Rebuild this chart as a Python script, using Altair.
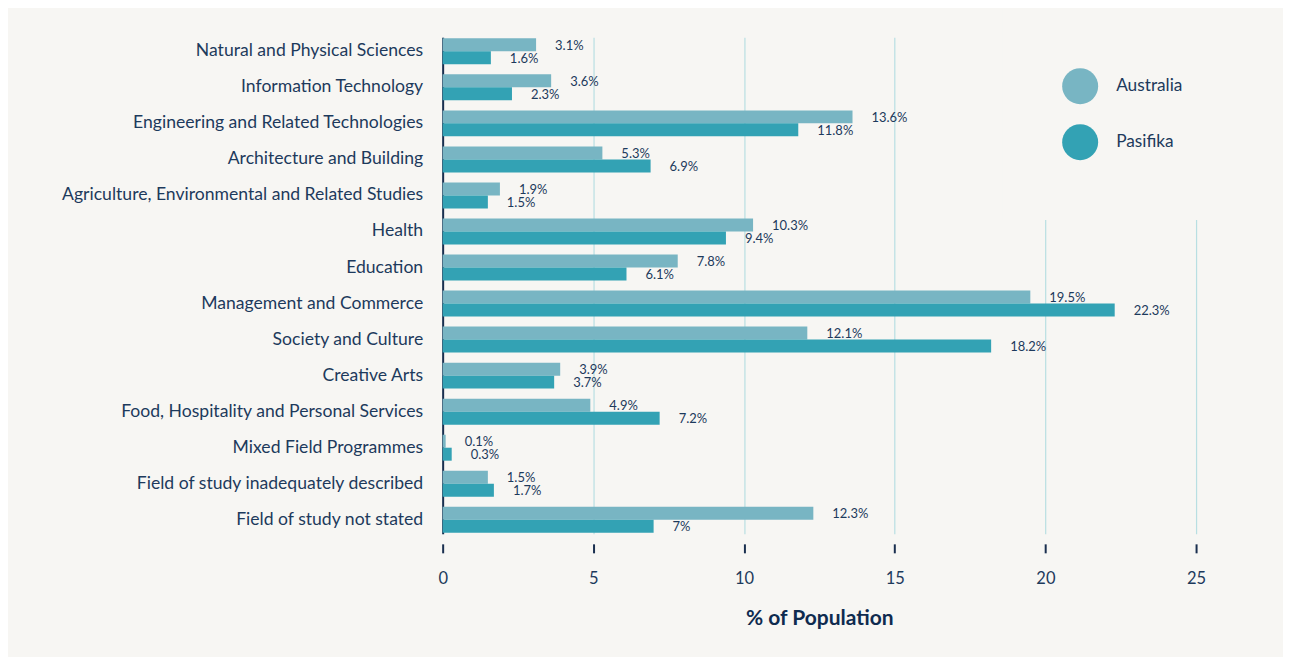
import altair as alt
import pandas as pd

categories = [
    "Natural and Physical Sciences",
    "Information Technology",
    "Engineering and Related Technologies",
    "Architecture and Building",
    "Agriculture, Environmental and Related Studies",
    "Health",
    "Education",
    "Management and Commerce",
    "Society and Culture",
    "Creative Arts",
    "Food, Hospitality and Personal Services",
    "Mixed Field Programmes",
    "Field of study inadequately described",
    "Field of study not stated",
]
australia = [3.1, 3.6, 13.6, 5.3, 1.9, 10.3, 7.8, 19.5, 12.1, 3.9, 4.9, 0.1, 1.5, 12.3]
pasifika = [1.6, 2.3, 11.8, 6.9, 1.5, 9.4, 6.1, 22.3, 18.2, 3.7, 7.2, 0.3, 1.7, 7.0]
series = ["Australia", "Pasifika"]
x_ticks = [0, 5, 10, 15, 20, 25]

rows = []
for c, a, p in zip(categories, australia, pasifika):
    rows.append({"category": c, "series": series[0], "value": a})
    rows.append({"category": c, "series": series[1], "value": p})
df = pd.DataFrame(rows)

NAVY = "#1d3a5c"
BG = "#f7f6f3"
FONT = "Lato"

y_enc = alt.Y(
    "category:N",
    sort=categories,
    scale=alt.Scale(paddingInner=0.28, paddingOuter=0.03),
    axis=alt.Axis(
        title=None,
        ticks=False,
        domainColor="#1a2f4f",
        domainWidth=2,
        labelFontSize=17.6,
        labelColor=NAVY,
        labelFont=FONT,
        labelPadding=20,
        labelLimit=500,
    ),
)
yoff = alt.YOffset("series:N", sort=series, scale=alt.Scale(paddingInner=0, paddingOuter=0))

x_enc = alt.X(
    "value:Q",
    scale=alt.Scale(domain=[0, 25], nice=False),
    axis=alt.Axis(
        values=x_ticks,
        title="% of Population",
        titleFontSize=21,
        titleFontWeight="bold",
        titleColor="#0f2b4f",
        titleFont=FONT,
        titlePadding=20,
        domain=False,
        ticks=True,
        tickColor="#1a2f4f",
        tickWidth=2,
        tickSize=9,
        offset=10,
        grid=True,
        gridColor="#b8dfe2",
        gridWidth=1.2,
        labelFontSize=16.5,
        labelColor=NAVY,
        labelFont=FONT,
        labelPadding=18,
        labelFlush=False,
    ),
)

color_enc = alt.Color(
    "series:N",
    sort=series,
    scale=alt.Scale(domain=series, range=["#78b5c3", "#33a2b4"]),
    legend=alt.Legend(
        title=None,
        orient="none",
        legendX=560,
        legendY=-29,
        padding=60,
        fillColor=BG,
        symbolType="circle",
        symbolSize=1296,
        symbolStrokeWidth=0,
        symbolOpacity=1,
        rowPadding=20,
        labelOffset=18,
        labelFontSize=17.3,
        labelColor=NAVY,
        labelFont=FONT,
    ),
)

bars = alt.Chart(df).mark_bar().encode(y=y_enc, yOffset=yoff, x=x_enc, color=color_enc)

labels = (
    alt.Chart(df)
    .transform_calculate(label="datum.value + '%'")
    .mark_text(align="left", baseline="middle", dx=19, dy=1, fontSize=13, font=FONT, color=NAVY)
    .encode(y=alt.Y("category:N", sort=categories), yOffset=alt.YOffset("series:N", sort=series), x="value:Q", text="label:N")
)

chart = (
    alt.layer(bars, labels)
    .properties(
        width=754,
        height=497,
        background=BG,
        padding={"left": 435, "top": 29, "right": 87, "bottom": 123},
        autosize=alt.AutoSizeParams(type="none"),
    )
    .configure_view(stroke=None)
)

chart.save("out.html", embed_options={"renderer": "svg", "actions": False})
